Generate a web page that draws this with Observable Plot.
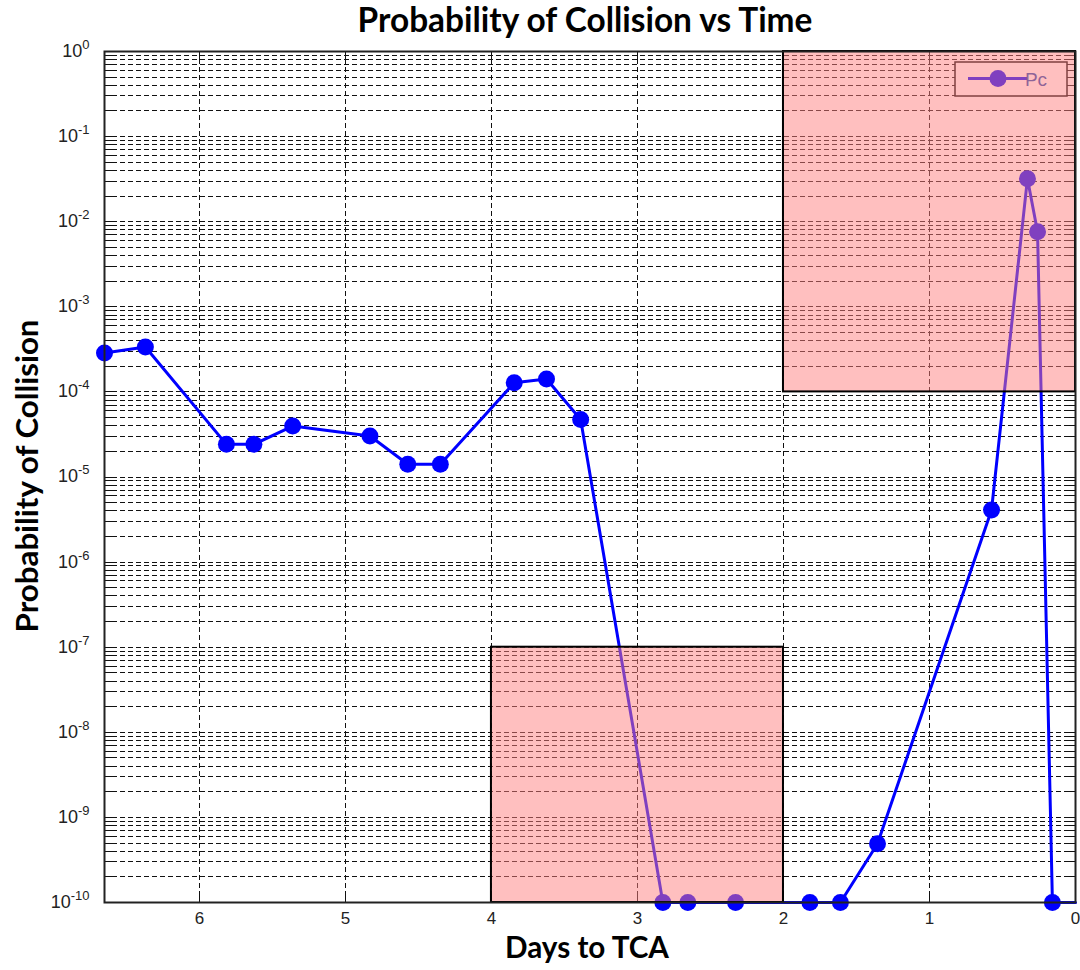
<!DOCTYPE html>
<html>
<head>
<meta charset="utf-8">
<script src="https://cdn.jsdelivr.net/npm/d3@7"></script>
<script src="https://cdn.jsdelivr.net/npm/@observablehq/plot@0.6"></script>
<style>
  html, body { margin: 0; padding: 0; background: #fff; }
  #chart { position: relative; width: 1080px; height: 970px; }
</style>
</head>
<body>
<div id="chart"></div>
<script>
// ---- data ----
const days = [6.65, 6.37, 5.815, 5.627, 5.361, 4.832, 4.573, 4.35, 3.844, 3.623, 3.389,
              2.826, 2.655, 2.328, 1.819, 1.61, 1.356, 0.575, 0.329, 0.26, 0.158, 0];
const pc   = [2.86e-4, 3.37e-4, 2.42e-5, 2.42e-5, 3.97e-5, 3.03e-5, 1.41e-5, 1.41e-5, 1.28e-4, 1.42e-4, 4.74e-5,
              1e-10, 1e-10, 1e-10, 1e-10, 1e-10, 4.9e-10, 4.1e-6, 3.2e-2, 7.6e-3, 1e-10, 1e-10];
const hasMarker = [true, true, true, true, true, true, true, true, true, true, true,
                   true, true, true, true, true, true, true, true, true, true, false];

// shaded zones
const zoneX1 = [2, 4];
const zoneX2 = [0, 2];
const zoneY1 = [1e-4, 1e-10];
const zoneY2 = [1, 1e-7];

// axes
const xTicks = [6, 5, 4, 3, 2, 1, 0];
const xDomain = [6.65, 0];
const yExponents = [-10, -9, -8, -7, -6, -5, -4, -3, -2, -1, 0];
const minorMultipliers = [1, 2, 3, 4, 5, 6, 7, 8, 9];

const seriesName = "Pc";
const titleText = "Probability of Collision vs Time";
const xLabelText = "Days to TCA";
const yLabelText = "Probability of Collision";

// ---- derived tables ----
const points = days.map((d, i) => ({day: d, pc: pc[i], marker: hasMarker[i]}));
const markerPoints = points.filter(p => p.marker);
const zones = zoneX1.map((x1, i) => ({x1, x2: zoneX2[i], y1: zoneY1[i], y2: zoneY2[i]}));
const yMajor = yExponents.map(e => Math.pow(10, e));
const gridY = [];
yExponents.slice(0, -1).forEach(e => minorMultipliers.forEach(m => gridY.push(m * Math.pow(10, e))));
const gridYInner = gridY.filter(v => v > 1e-10 * 1.0001);

const W = 1080, H = 970;
const mL = 104, mR = 5, mT = 51, mB = 68;
const plotW = W - mL - mR, plotH = H - mT - mB;

const chart = Plot.plot({
  width: W, height: H,
  marginLeft: mL, marginRight: mR, marginTop: mT, marginBottom: mB,
  style: {fontFamily: "'Liberation Sans', Arial, sans-serif", fontSize: "17px", color: "#222", background: "#fff"},
  x: {type: "linear", domain: xDomain},
  y: {type: "log", domain: [1e-10, 1]},
  marks: [
    Plot.ruleY(gridYInner, {y: d => d, stroke: "#111", strokeWidth: 1, strokeDasharray: "5,3"}),
    Plot.ruleX(xTicks.filter(t => t !== 0), {x: d => d, stroke: "#111", strokeWidth: 1, strokeDasharray: "5,3"}),
    Plot.tickY(gridY, {y: d => d, stroke: "#111", strokeWidth: 1, insetRight: plotW - 8}),
    Plot.tickY(gridY, {y: d => d, stroke: "#111", strokeWidth: 1, insetLeft: plotW - 8}),
    Plot.tickX(xTicks, {x: d => d, stroke: "#111", strokeWidth: 1, insetTop: plotH - 9}),
    Plot.tickX(xTicks, {x: d => d, stroke: "#111", strokeWidth: 1, insetBottom: plotH - 9}),
    Plot.line(points, {x: "day", y: "pc", stroke: "#0000ff", strokeWidth: 3}),
    Plot.dot(markerPoints, {x: "day", y: "pc", r: 8.5, fill: "#0000ff", stroke: "none"}),
    Plot.rect(zones, {x1: "x1", x2: "x2", y1: "y1", y2: "y2", fill: "#ff8080", fillOpacity: 0.5, stroke: "#000", strokeWidth: 2}),
    Plot.frame({stroke: "#222", strokeWidth: 2}),
    Plot.axisX({ticks: xTicks, tickSize: 0, tickPadding: 9, label: null, tickFormat: d => String(d)}),
    Plot.axisY({ticks: yMajor, tickSize: 0, tickPadding: 15, label: null, tickFormat: d => String(Math.round(Math.log10(d)))})
  ]
});

document.getElementById("chart").appendChild(chart);
const svg = d3.select(chart);

// crisp grid lines
svg.selectAll('g[aria-label="rule"], g[aria-label="tick"]').attr("shape-rendering", "crispEdges");

// tick label fonts
svg.selectAll('g[aria-label="x-axis tick label"], g[aria-label="y-axis tick label"]')
  .attr("font-size", 17).attr("fill", "#222")
  .attr("font-family", "'Liberation Sans', Arial, sans-serif");
svg.selectAll('g[aria-label="x-axis tick label"] text').attr("font-size", 17);

// superscript tick labels
svg.selectAll('g[aria-label="y-axis tick label"] text').each(function() {
  const t = d3.select(this);
  const exp = t.text();
  t.text("");
  t.append("tspan").attr("font-size", 18).text("10");
  t.append("tspan").attr("dy", "-8").attr("font-size", 13).text(exp);
});

// legend, placed beneath the zone overlay so it gets tinted like the reference
const rectGroup = svg.select('g[aria-label="rect"]').node();
const leg = d3.select(chart).insert("g", () => rectGroup).attr("aria-label", "legend");
leg.append("rect").attr("x", 955).attr("y", 62).attr("width", 112).attr("height", 34)
  .attr("fill", "#fff").attr("stroke", "#000").attr("stroke-width", 1.5);
leg.append("line").attr("x1", 968).attr("x2", 1027).attr("y1", 78.5).attr("y2", 78.5)
  .attr("stroke", "#0000ff").attr("stroke-width", 3);
leg.append("circle").attr("cx", 998).attr("cy", 78.5).attr("r", 8.5).attr("fill", "#0000ff");
leg.append("text").attr("x", 1036).attr("y", 85.5).attr("font-size", 19)
  .attr("font-family", "'Liberation Sans', Arial, sans-serif").attr("fill", "#1a48b0").text(seriesName);

// titles
function fitText(sel, target) {
  const len = sel.node().getComputedTextLength();
  const fs = parseFloat(sel.attr("font-size"));
  sel.attr("font-size", fs * target / len);
}
const lbl = {"font-family": "Lato, 'Open Sans', sans-serif", "font-weight": 700, "fill": "#000", "text-anchor": "middle"};
function addText(x, y, txt, size, target, rot) {
  const t = svg.append("text").attr("x", x).attr("y", y).attr("font-size", size).text(txt);
  Object.entries(lbl).forEach(([k, v]) => t.attr(k, v));
  if (rot) t.attr("transform", `rotate(-90, ${x}, ${y})`);
  fitText(t, target);
  return t;
}
addText(585, 32, titleText, 26, 455);
addText(587, 958, xLabelText, 28, 164);
addText(38, 476, yLabelText, 28, 313, true);
</script>
</body>
</html>
